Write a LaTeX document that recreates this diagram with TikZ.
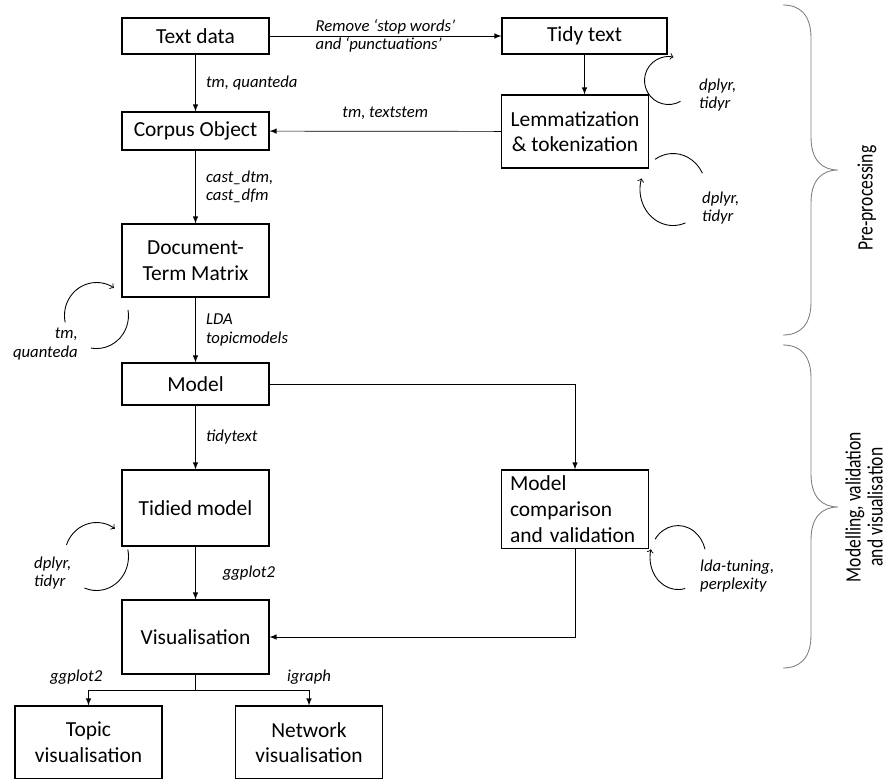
\documentclass[tikz,border=0pt]{standalone}
\usepackage{fontspec}
\setmainfont{Carlito}
\newfontfamily\sidefont[FakeStretch=0.8]{Carlito}
\usetikzlibrary{calc}

\begin{document}
\begin{tikzpicture}[x=0.02cm, y=-0.02cm, >=latex,
  box/.style={draw, line width=0.6pt, minimum width=2.94cm, align=center,
    font=\fontsize{12.2}{14.6}\selectfont},
  lbl/.style={font=\fontsize{9.5}{10.5}\selectfont\itshape, align=left},
  loopy/.style={-to, line width=0.5pt},
  brc/.style={gray, line width=0.5pt}]
\useasboundingbox (0,0) rectangle (889,778);

% pre-processing boxes
\node[box, minimum height=0.72cm] (text) at (195.5,36) {Text data};
\node[box, minimum width=3.3cm, minimum height=0.72cm] (tidy) at (584.5,36) {Tidy text};
\node[box, minimum height=1.46cm] (lemma) at (575,131.5) {Lemmatization\\\& tokenization};
\node[box, minimum height=0.76cm] (corpus) at (195.5,131) {Corpus Object};
\node[box, minimum height=1.46cm] (dtm) at (195.5,260.5) {Document-\\Term Matrix};

% modelling boxes
\node[box, minimum height=0.84cm] (model) at (195.5,384) {Model};
\node[box, minimum height=1.52cm] (tidied) at (195.5,508) {Tidied model};
\node[box, minimum height=1.52cm, text width=2.6cm, inner xsep=0.17cm, align=left] (cmp) at (575,509) {Model\\comparison\\and validation};
\node[box, minimum height=1.48cm] (vis) at (195.5,637) {Visualisation};
\node[box, minimum height=1.46cm] (topic) at (88.5,742.5) {Topic\\visualisation};
\node[box, minimum height=1.46cm] (network) at (309,742.5) {Network\\visualisation};

% main flow
\draw[->] (text) -- node[lbl] {Remove `stop words'\\and `punctuations'} (tidy);
\draw[->] (tidy.south) -- (tidy.south |- lemma.north);
\draw[->] (lemma) -- node[lbl, above=3pt] {tm, textstem} (corpus);
\draw[->] (text) -- node[lbl, right=2.5pt] {tm, quanteda} (corpus);
\draw[->] (corpus) -- node[lbl, right=2.5pt] {cast\_dtm,\\cast\_dfm} (dtm);
\draw[->] (dtm) -- node[lbl, right=2.5pt] {LDA\\topicmodels} (model);
\draw[->] (model) -- node[lbl, right=2.5pt] {tidytext} (tidied);
\draw[->] (model.east) -| (cmp.north);
\draw[->] (tidied) -- node[lbl, right=12pt] {ggplot2} (vis);
\draw[->] (cmp.south) |- (vis.east);
\coordinate (split) at ($(vis.south)+(0,16)$);
\draw (vis.south) -- (split);
\draw[->] (split) -| node[lbl, pos=0.5, above, xshift=-7pt] {ggplot2} (topic.north);
\draw[->] (split) -| node[lbl, pos=0.5, above] {igraph} (network.north);

% loops
\coordinate (l1) at ($(tidy.south east)+(1,26)$);
\draw[loopy] ($(l1)+(60:24 and 24)$) arc[start angle=60, end angle=282, x radius=24, y radius=24];
\node[lbl, anchor=west] (l1t) at (693,95) {dplyr,\\tidyr};

\coordinate (l2) at ($(lemma.south east)+(24,21)$);
\draw[line width=0.5pt] ($(l2)+(237:33 and 36)$) arc[start angle=237, end angle=333, x radius=33, y radius=36];
\draw[loopy] ($(l2)+(68:33 and 36)$) arc[start angle=68, end angle=198, x radius=33, y radius=36];
\node[lbl, anchor=west] (l2t) at (696,208) {dplyr,\\tidyr};

\coordinate (l3) at ($(dtm.south west)+(-25,18)$);
\draw[loopy] ($(l3)+(168:32 and 33)$) arc[start angle=168, end angle=303, x radius=32, y radius=33];
\draw[line width=0.5pt] ($(l3)+(-10:32 and 33)$) arc[start angle=-10, end angle=100, x radius=32, y radius=33];
\node[lbl, anchor=east, align=right] (l3t) at (84,344) {tm,\\quanteda};

\coordinate (l4) at ($(tidied.south west)+(-25,10)$);
\draw[loopy] ($(l4)+(200:32 and 34)$) arc[start angle=200, end angle=305, x radius=32, y radius=34];
\draw[line width=0.5pt] ($(l4)+(-12:32 and 34)$) arc[start angle=-12, end angle=112, x radius=32, y radius=34];
\node[lbl, anchor=west] (l4t) at (28,573) {dplyr,\\tidyr};

\coordinate (l5) at ($(cmp.south east)+(29,9)$);
\draw[line width=0.5pt] ($(l5)+(215:28 and 32)$) arc[start angle=215, end angle=345, x radius=28, y radius=32];
\draw[loopy] ($(l5)+(75:28 and 32)$) arc[start angle=75, end angle=195, x radius=28, y radius=32];
\node[lbl, anchor=west] (l5t) at (694,576) {lda-tuning,\\perplexity};

% braces
\draw[brc] (783,5) .. controls (800,5) and (811,15) .. (811,38)
  -- (811,137) .. controls (811,160) and (822,170) .. (838,170)
  .. controls (822,170) and (811,180) .. (811,203)
  -- (811,302) .. controls (811,325) and (800,335) .. (783,335);
\draw[brc] (783,345) .. controls (800,345) and (811,355) .. (811,378)
  -- (811,474) .. controls (811,497) and (822,507) .. (838,507)
  .. controls (822,507) and (811,517) .. (811,540)
  -- (811,635) .. controls (811,658) and (800,668) .. (783,668);
\node[rotate=90, font=\sidefont\fontsize{12.5}{15}\selectfont] (pre) at (867,198) {Pre-processing};
\node[rotate=90, align=center, font=\sidefont\fontsize{12.5}{12.5}\selectfont] (mvv) at (864,507) {Modelling, validation\\and visualisation};
\end{tikzpicture}
\end{document}
